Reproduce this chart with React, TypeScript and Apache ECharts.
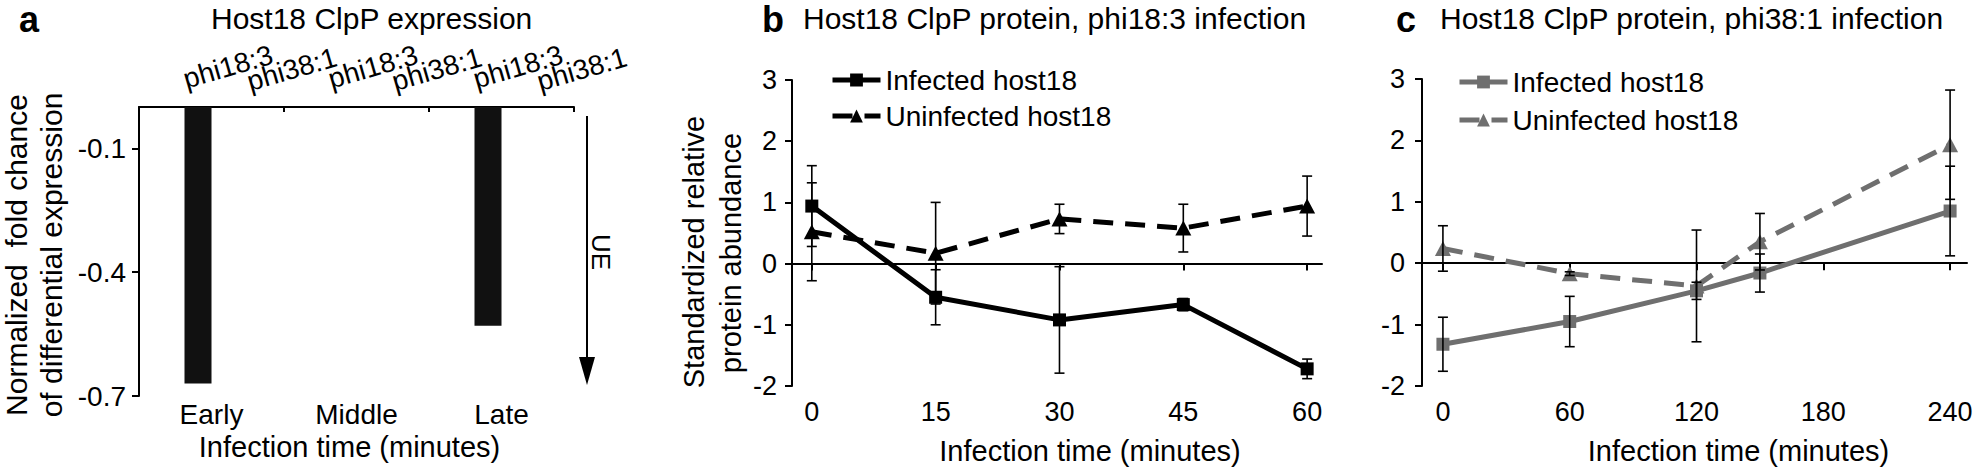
import React, { useEffect, useRef } from "react";
import * as echarts from "echarts";

const FONT = '"Liberation Sans", Arial, Helvetica, sans-serif';

// ---- Panel a: Host18 ClpP expression (bars)
const panelACategories = ["Early", "Middle", "Late"];
const panelAPhageLabels = ["phi18:3", "phi38:1", "phi18:3", "phi38:1", "phi18:3", "phi38:1"];
const panelAPhi183 = [-0.67, null, -0.53];
const panelAPhi381 = [null, null, null];
const panelAYTicks = [-0.7, -0.4, -0.1];

// ---- Panel b: phi18:3 infection
const bTimes = [0, 15, 30, 45, 60];
const bInfected = [0.94, -0.55, -0.92, -0.67, -1.72];
const bInfectedErr = [0.66, 0.45, 0.87, 0.1, 0.16];
const bUninfected = [0.52, 0.17, 0.73, 0.58, 0.94];
const bUninfectedErr = [0.8, 0.83, 0.24, 0.39, 0.49];

// ---- Panel c: phi38:1 infection
const cTimes = [0, 60, 120, 150, 240];
const cTickValues = [0, 60, 120, 180, 240];
const cInfected = [-1.32, -0.95, -0.45, -0.16, 0.85];
const cInfectedErr = [0.44, 0.41, 0.14, 0.31, 0.73];
const cUninfected = [0.24, -0.17, -0.37, 0.35, 1.93];
const cUninfectedErr = [0.37, 0.03, 0.91, 0.46, 0.89];

const GRAY = "#6f6f6f";
const BLACK = "#000";

const pts = (t: number[], v: number[]) => t.map((x, i) => [x, v[i]]);
const errPts = (t: number[], v: number[], e: number[]) =>
  t.map((x, i) => [x, v[i] - e[i], v[i] + e[i]]);

const renderErr = (params: any, api: any) => {
  const x = api.value(0);
  const lo = api.coord([x, api.value(1)]);
  const hi = api.coord([x, api.value(2)]);
  const cap = 5;
  const style = { stroke: "#000", lineWidth: 1.6 };
  return {
    type: "group",
    children: [
      { type: "line", shape: { x1: lo[0], y1: lo[1], x2: hi[0], y2: hi[1] }, style },
      { type: "line", shape: { x1: lo[0] - cap, y1: lo[1], x2: lo[0] + cap, y2: lo[1] }, style },
      { type: "line", shape: { x1: hi[0] - cap, y1: hi[1], x2: hi[0] + cap, y2: hi[1] }, style },
    ],
  };
};

const axisLineStyle = { color: BLACK, width: 2 };
const txt = (size: number) => ({ fontSize: size, color: BLACK, fontFamily: FONT });

const textEl = (text: string, x: number, y: number, size: number, opts: any = {}) => ({
  type: "text",
  x,
  y,
  rotation: opts.rotation || 0,
  style: {
    text,
    fontSize: size,
    fontWeight: opts.bold ? "bold" : "normal",
    fontFamily: FONT,
    fill: BLACK,
    align: opts.align || "left",
    verticalAlign: "middle",
    textAlign: opts.align || "left",
    textVerticalAlign: "middle",
  },
});

function buildOption() {
  const valueYAxis = (grid: number, margin: number) => ({
    gridIndex: grid,
    type: "value",
    min: -2,
    max: 3,
    interval: 1,
    axisLine: { show: true, onZero: false, lineStyle: axisLineStyle },
    axisTick: { show: true, length: 7, lineStyle: axisLineStyle },
    axisLabel: { ...txt(27), margin },
    splitLine: { show: false },
  });

  const tickXAxis = (grid: number, min: number, max: number, ticks: number[]) => ({
    gridIndex: grid,
    type: "value",
    min,
    max,
    position: "bottom",
    axisLine: { show: true, onZero: true, lineStyle: axisLineStyle },
    axisTick: { show: true, length: 7, customValues: ticks, lineStyle: axisLineStyle },
    axisLabel: { show: false },
    splitLine: { show: false },
  });

  const labelXAxis = (grid: number, min: number, max: number, ticks: number[], pad: number) => ({
    gridIndex: grid,
    type: "value",
    min,
    max,
    position: "bottom",
    axisLine: { show: false, onZero: false },
    axisTick: { show: false },
    axisLabel: { ...txt(27), margin: 12, customValues: ticks },
    splitLine: { show: false },
    name: "Infection time (minutes)",
    nameLocation: "middle",
    nameGap: 50,
    nameTextStyle: { ...txt(29), padding: [0, 0, 0, pad] },
  });

  const lineSeries = (name: string, x: number, y: number, data: any, color: string, dashed: boolean) => ({
    type: "line",
    name,
    xAxisIndex: x,
    yAxisIndex: y,
    data,
    symbol: dashed ? "triangle" : "rect",
    symbolSize: dashed ? [16, 15] : 13,
    lineStyle: { color, width: 5, type: dashed ? [20, 12] : "solid" },
    itemStyle: { color },
    emphasis: { disabled: true },
    z: 2,
  });

  const errSeries = (name: string, x: number, y: number, data: any) => ({
    type: "custom",
    name,
    xAxisIndex: x,
    yAxisIndex: y,
    data,
    encode: { x: 0, y: [1, 2] },
    renderItem: renderErr,
    silent: true,
    z: 3,
  });

  const legendBase = {
    orient: "vertical",
    itemWidth: 48,
    itemHeight: 16,
    selectedMode: false,
    textStyle: { ...txt(28), lineHeight: 28 },
  };

  const legendItems = (color: string) => [
    { name: "Infected host18", itemStyle: { color }, lineStyle: { color, width: 5 } },
    { name: "Uninfected host18", itemStyle: { color }, lineStyle: { color, width: 5 } },
  ];

  return {
    animation: false,
    backgroundColor: "#fff",
    grid: [
      { left: 139, top: 107, width: 435, height: 289 },
      { left: 792, top: 80, width: 530, height: 308 },
      { left: 1422, top: 79, width: 545, height: 308 },
    ],
    xAxis: [
      {
        gridIndex: 0,
        type: "category",
        data: panelACategories,
        position: "top",
        axisLine: { show: true, onZero: false, lineStyle: axisLineStyle },
        axisTick: { show: true, inside: true, length: 5, lineStyle: axisLineStyle },
        axisLabel: { show: false },
        splitLine: { show: false },
      },
      {
        gridIndex: 0,
        type: "category",
        data: panelAPhageLabels,
        position: "top",
        axisLine: { show: false, onZero: false },
        axisTick: { show: false },
        axisLabel: {
          ...txt(28),
          rotate: -16,
          margin: 25,
          interval: 0,
          formatter: (v: string, i: number) => (i % 2 === 0 ? `{a|${v}}` : `{b|${v}}`),
          rich: {
            a: { ...txt(28), padding: [0, 0, 0, 9] },
            b: { ...txt(28) },
          },
        },
        splitLine: { show: false },
      },
      {
        gridIndex: 0,
        type: "category",
        data: panelACategories,
        position: "bottom",
        axisLine: { show: false, onZero: false },
        axisTick: { show: false },
        axisLabel: { ...txt(28), margin: 4 },
        splitLine: { show: false },
        name: "Infection time (minutes)",
        nameLocation: "middle",
        nameGap: 32,
        nameTextStyle: { ...txt(29), padding: [0, 14, 0, 0] },
      },
      tickXAxis(1, -2.4, 61.8, bTimes),
      labelXAxis(1, -2.4, 61.8, bTimes, 66),
      tickXAxis(2, -9.9, 248, cTickValues),
      labelXAxis(2, -9.9, 248, cTickValues, 88),
    ],
    yAxis: [
      {
        gridIndex: 0,
        type: "value",
        min: -0.7,
        max: 0,
        axisLine: { show: true, onZero: false, lineStyle: axisLineStyle },
        axisTick: { show: true, length: 7, customValues: panelAYTicks, lineStyle: axisLineStyle },
        axisLabel: { ...txt(28), margin: 13, customValues: panelAYTicks },
        splitLine: { show: false },
      },
      valueYAxis(1, 15),
      valueYAxis(2, 17),
    ],
    legend: [
      { ...legendBase, left: 825, top: 61, itemGap: 8, data: legendItems(BLACK) },
      { ...legendBase, left: 1452, top: 63, itemGap: 10, data: legendItems(GRAY) },
    ],
    series: [
      {
        type: "bar",
        name: "phi18:3",
        xAxisIndex: 2,
        yAxisIndex: 0,
        data: panelAPhi183,
        barWidth: 27,
        barGap: "0%",
        itemStyle: { color: "#111" },
        emphasis: { disabled: true },
      },
      {
        type: "bar",
        name: "phi38:1",
        xAxisIndex: 2,
        yAxisIndex: 0,
        data: panelAPhi381,
        barWidth: 27,
        barGap: "0%",
        itemStyle: { color: "#111" },
        emphasis: { disabled: true },
      },
      lineSeries("Infected host18", 3, 1, pts(bTimes, bInfected), BLACK, false),
      lineSeries("Uninfected host18", 3, 1, pts(bTimes, bUninfected), BLACK, true),
      errSeries("b-infected-err", 3, 1, errPts(bTimes, bInfected, bInfectedErr)),
      errSeries("b-uninfected-err", 3, 1, errPts(bTimes, bUninfected, bUninfectedErr)),
      lineSeries("Infected host18", 5, 2, pts(cTimes, cInfected), GRAY, false),
      lineSeries("Uninfected host18", 5, 2, pts(cTimes, cUninfected), GRAY, true),
      errSeries("c-infected-err", 5, 2, errPts(cTimes, cInfected, cInfectedErr)),
      errSeries("c-uninfected-err", 5, 2, errPts(cTimes, cUninfected, cUninfectedErr)),
    ],
    graphic: [
      textEl("a", 19, 19, 36, { bold: true }),
      textEl("Host18 ClpP expression", 211, 18, 30),
      textEl("b", 762, 19, 36, { bold: true }),
      textEl("Host18 ClpP protein, phi18:3 infection", 803, 18, 30),
      textEl("c", 1396, 19, 36, { bold: true }),
      textEl("Host18 ClpP protein, phi38:1 infection", 1440, 18, 30),
      // y-axis titles
      textEl("Normalized  fold chance", 16, 255, 30, { rotation: Math.PI / 2, align: "center" }),
      textEl("of differential expression", 51, 255, 30, { rotation: Math.PI / 2, align: "center" }),
      textEl("Standardized relative", 694, 252, 29, { rotation: Math.PI / 2, align: "center" }),
      textEl("protein abundance", 731, 253, 29, { rotation: Math.PI / 2, align: "center" }),
      // UE arrow
      { type: "line", shape: { x1: 587, y1: 116, x2: 587, y2: 362 }, style: { stroke: BLACK, lineWidth: 2 } },
      { type: "polygon", shape: { points: [[579, 357], [595, 357], [587, 385]] }, style: { fill: BLACK } },
      textEl("UE", 601, 252, 26, { rotation: -Math.PI / 2, align: "center" }),
    ],
  };
}

export default function App() {
  const ref = useRef<HTMLDivElement>(null);
  useEffect(() => {
    document.body.style.margin = "0";
    if (!ref.current) return;
    const chart = echarts.init(ref.current, null, { renderer: "svg" });
    chart.setOption(buildOption() as any);
    return () => chart.dispose();
  }, []);
  return <div ref={ref} style={{ width: 1980, height: 470 }} />;
}
